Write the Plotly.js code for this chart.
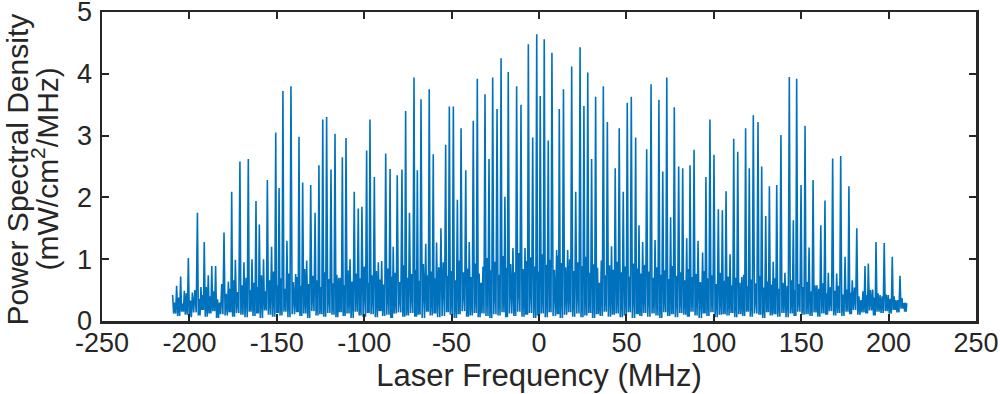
<!DOCTYPE html>
<html>
<head>
<meta charset="utf-8">
<script src="https://cdn.plot.ly/plotly-3.0.1.min.js"></script>
<style>
  html, body { margin: 0; padding: 0; background: #fff; }
  #chart { width: 1000px; height: 394px; }
</style>
</head>
<body>
<div id="chart"></div>
<script>
// comb line positions (MHz) and peak power spectral density (mW/cm^2/MHz)
const lineFreq = [
  -209.6, -207.3, -205.0, -202.9, -200.6, -198.3, -195.4, -193.4, -191.5, -189.2,
  -187.2, -185.0, -182.8, -180.2, -177.7, -175.8, -173.7, -171.1, -168.8, -166.3,
  -164.2, -161.9, -160.0, -157.6, -155.4, -153.0, -150.6, -148.7, -146.5, -144.2,
  -141.9, -139.2, -137.3, -135.2, -132.9, -130.6, -128.1, -125.9, -123.7, -121.5,
  -119.0, -116.7, -114.6, -112.5, -110.4, -108.1, -105.7, -103.4, -101.3, -98.6,
  -96.7, -94.2, -91.9, -90.0, -87.7, -85.2, -83.4, -81.1, -78.4, -76.3,
  -74.1, -71.5, -69.6, -67.5, -64.8, -62.8, -60.5, -58.6, -56.1, -53.4,
  -51.3, -49.0, -46.7, -44.6, -41.9, -39.9, -37.6, -35.3, -33.2, -30.9,
  -28.6, -26.5, -24.0, -21.7, -19.5, -17.6, -14.9, -12.8, -10.3, -8.0,
  -6.1, -3.6, -1.3, 0.7, 3.0, 5.3, 7.4, 10.1, 11.6, 14.0,
  16.4, 18.7, 21.0, 23.5, 25.7, 27.9, 30.1, 32.4, 34.5, 36.8,
  39.1, 41.5, 43.6, 45.9, 48.2, 50.5, 52.8, 55.3, 57.2, 59.3,
  61.6, 64.1, 66.4, 68.6, 70.8, 73.1, 75.3, 77.4, 79.9, 82.2,
  84.5, 86.4, 88.7, 91.0, 93.6, 95.5, 97.8, 100.1, 102.6, 104.9,
  107.0, 109.3, 111.4, 113.7, 116.0, 118.2, 120.3, 122.6, 125.3, 127.4,
  129.7, 131.8, 134.0, 136.0, 138.4, 140.7, 143.2, 145.5, 147.4, 149.9,
  152.2, 154.5, 156.8, 159.0, 161.2, 163.6, 165.5, 168.0, 170.3, 172.6,
  175.1, 177.3, 179.2, 181.8, 184.2, 186.5, 188.4, 190.9, 192.8, 195.1,
  197.5, 199.8, 202.1, 204.2, 206.5, 208.8, 210.4
];
const linePsd = [
  0.42, 0.57, 0.72, 0.49, 1.02, 0.46, 1.75, 0.55, 1.28, 0.74,
  0.89, 0.89, 0.30, 1.43, 0.64, 2.09, 0.99, 2.58, 0.95, 2.62,
  1.00, 1.94, 1.56, 1.00, 2.28, 1.20, 3.05, 2.15, 3.72, 1.30,
  3.80, 0.76, 2.98, 2.24, 0.98, 2.20, 1.75, 2.52, 3.26, 3.30,
  2.45, 3.03, 0.70, 2.65, 2.96, 1.00, 2.09, 1.82, 1.85, 2.76,
  3.26, 2.33, 0.95, 0.97, 2.71, 2.46, 1.20, 2.36, 2.45, 3.40,
  1.75, 3.94, 2.44, 3.59, 1.25, 3.75, 2.70, 1.27, 1.50, 2.85,
  3.47, 3.47, 1.96, 3.12, 2.44, 1.28, 3.24, 3.92, 0.62, 3.67,
  2.62, 3.94, 3.43, 4.25, 2.01, 4.03, 1.18, 3.80, 3.50, 1.18,
  4.48, 2.97, 4.64, 3.64, 4.56, 2.92, 4.34, 1.15, 3.43, 3.75,
  1.15, 4.12, 2.09, 4.43, 3.48, 4.02, 2.62, 3.63, 0.62, 3.80,
  3.22, 1.21, 2.47, 3.12, 2.09, 3.53, 3.63, 2.97, 1.55, 1.28,
  2.78, 3.83, 1.31, 3.58, 2.42, 3.94, 1.68, 3.46, 2.50, 2.47,
  1.34, 2.52, 2.77, 1.30, 1.11, 2.33, 3.26, 2.69, 1.81, 1.79,
  2.10, 1.08, 2.95, 2.74, 0.71, 3.12, 2.47, 3.33, 3.22, 2.50,
  1.70, 2.18, 0.96, 2.20, 3.01, 0.78, 3.95, 1.63, 3.92, 2.20,
  3.16, 1.19, 2.28, 0.58, 1.55, 1.95, 0.78, 2.63, 0.77, 2.67,
  1.04, 2.18, 0.66, 1.50, 0.34, 0.89, 0.93, 0.51, 1.28, 0.42,
  1.26, 0.42, 1.04, 0.34, 0.73, 0.29, 0.29
];
// small side peak in the middle of each gap between comb lines
const gapPeakPsd = [
  0.30, 0.38, 0.28, 0.45, 0.33, 0.50, 0.36, 0.42, 0.55, 0.40, 0.48, 0.35, 0.60, 0.44, 0.52, 0.66, 0.47, 0.58, 0.70, 0.50,
  0.62, 0.55, 0.74, 0.48, 0.66, 0.80, 0.58, 0.69, 0.52, 0.77, 0.63, 0.71, 0.57, 0.84, 0.60, 0.73, 0.66, 0.55, 0.79, 0.68,
  0.61, 0.75, 0.70, 0.58, 0.82, 0.64, 0.77, 0.69, 0.88, 0.62, 0.74, 0.81, 0.67, 0.59, 0.85, 0.72, 0.78, 0.63, 0.90, 0.70,
  0.76, 0.83, 0.65, 0.92, 0.74, 0.80, 0.69, 0.87, 0.95, 0.73, 0.81, 0.66, 0.98, 0.79, 0.85, 0.71, 0.93, 0.77, 0.88, 1.02,
  0.82, 0.96, 0.75, 1.05, 0.86, 0.92, 0.79, 1.10, 0.84, 0.97, 1.03, 0.88, 0.80, 1.08, 0.91, 0.99, 0.83, 1.06, 0.94, 0.87,
  1.00, 0.81, 0.95, 0.89, 1.04, 0.78, 0.92, 0.86, 0.98, 0.74, 0.90, 0.83, 0.96, 0.79, 0.88, 0.72, 0.93, 0.85, 0.77, 0.91,
  0.80, 0.70, 0.87, 0.75, 0.82, 0.68, 0.89, 0.73, 0.79, 0.66, 0.84, 0.71, 0.76, 0.63, 0.81, 0.69, 0.74, 0.60, 0.78, 0.65,
  0.72, 0.58, 0.70, 0.62, 0.75, 0.56, 0.67, 0.61, 0.73, 0.54, 0.64, 0.59, 0.69, 0.52, 0.62, 0.57, 0.66, 0.50, 0.60, 0.55,
  0.63, 0.48, 0.58, 0.52, 0.61, 0.45, 0.55, 0.49, 0.57, 0.43, 0.51, 0.46, 0.54, 0.40, 0.48, 0.42, 0.50, 0.38, 0.45, 0.40,
  0.43, 0.36, 0.40, 0.34, 0.37, 0.30
];
// noise floor reached on either side of the side peak
const gapFloorPsd = [
  0.12, 0.08, 0.15, 0.10, 0.06, 0.14, 0.09, 0.18, 0.07, 0.12, 0.16, 0.05, 0.11, 0.09, 0.14, 0.07, 0.13, 0.10, 0.06, 0.15,
  0.08, 0.12, 0.05, 0.17, 0.10, 0.07, 0.13, 0.09, 0.15, 0.06, 0.11, 0.14, 0.08, 0.12, 0.05, 0.16, 0.09, 0.11, 0.07, 0.13,
  0.10, 0.06, 0.14, 0.08, 0.12, 0.05, 0.15, 0.09, 0.07, 0.13, 0.11, 0.06, 0.16, 0.08, 0.10, 0.05, 0.12, 0.14, 0.07, 0.09,
  0.13, 0.07, 0.10, 0.05, 0.15, 0.09, 0.12, 0.06, 0.08, 0.14, 0.10, 0.05, 0.11, 0.16, 0.07, 0.09, 0.13, 0.06, 0.12, 0.08,
  0.05, 0.11, 0.09, 0.14, 0.06, 0.12, 0.08, 0.15, 0.07, 0.10, 0.13, 0.05, 0.09, 0.12, 0.06, 0.14, 0.08, 0.11, 0.05, 0.10,
  0.14, 0.07, 0.12, 0.06, 0.09, 0.13, 0.05, 0.11, 0.08, 0.15, 0.07, 0.10, 0.12, 0.06, 0.09, 0.14, 0.05, 0.11, 0.08, 0.13,
  0.07, 0.12, 0.09, 0.05, 0.14, 0.08, 0.11, 0.06, 0.13, 0.10, 0.07, 0.15, 0.09, 0.05, 0.12, 0.08, 0.14, 0.06, 0.10, 0.11,
  0.09, 0.13, 0.06, 0.11, 0.08, 0.15, 0.07, 0.12, 0.10, 0.05, 0.14, 0.09, 0.11, 0.07, 0.13, 0.06, 0.12, 0.08, 0.15, 0.10,
  0.11, 0.08, 0.14, 0.07, 0.12, 0.10, 0.16, 0.09, 0.13, 0.08, 0.15, 0.11, 0.18, 0.10, 0.14, 0.12, 0.17, 0.09, 0.15, 0.13,
  0.16, 0.12, 0.18, 0.14, 0.20, 0.15
];
const xTicks = [-250, -200, -150, -100, -50, 0, 50, 100, 150, 200, 250];
const yTicks = [0, 1, 2, 3, 4, 5];
const yTitleLines = ['Power Spectral Density', '(mW/cm<sup>2</sup>/MHz)'];

// walk the spectrum: comb line, floor, side peak, floor, next comb line ...
const xs = [];
const ys = [];
for (let k = 0; k < lineFreq.length; k++) {
    xs.push(lineFreq[k]);
    ys.push(linePsd[k]);
    if (k < lineFreq.length - 1) {
        const gap = lineFreq[k + 1] - lineFreq[k];
        xs.push(lineFreq[k] + gap * 0.25, lineFreq[k] + gap * 0.5, lineFreq[k] + gap * 0.75);
        ys.push(gapFloorPsd[k], gapPeakPsd[k], gapFloorPsd[k]);
    }
}

const ink = '#262626';
const font = 'Liberation Sans, Arial, Helvetica, sans-serif';

const axisBase = {
    showline: true,
    mirror: 'ticks',
    linecolor: ink,
    linewidth: 2.5,
    ticks: 'inside',
    ticklen: 7,
    tickwidth: 2,
    tickcolor: ink,
    showgrid: false,
    zeroline: false,
    ticklabeloverflow: 'allow',
    tickfont: { family: font, size: 27, color: ink },
};

// two-line y title as separate annotations so the line gap matches
const yTitleNotes = yTitleLines.map((txt, i) => ({
    text: txt,
    xref: 'paper', yref: 'paper',
    x: 0, y: 0.5,
    xanchor: 'center', yanchor: 'middle',
    xshift: i === 0 ? -85 : -57,
    yshift: -3,
    textangle: -90,
    showarrow: false,
    font: { family: font, size: 30, color: ink },
}));

Plotly.newPlot('chart', [{
    x: xs,
    y: ys,
    type: 'scatter',
    mode: 'lines',
    line: { color: '#0072bd', width: 1.6 },
    hoverinfo: 'skip',
}], {
    width: 1000,
    height: 394,
    margin: { l: 102, r: 24, t: 12, b: 73 },
    paper_bgcolor: '#fff',
    plot_bgcolor: '#fff',
    showlegend: false,
    xaxis: Object.assign({}, axisBase, {
        range: [-250, 250],
        tickvals: xTicks,
        ticktext: xTicks.map(String),
        ticklabelstandoff: -4,
        title: { text: 'Laser Frequency (MHz)', font: { family: font, size: 31, color: ink }, standoff: 4 },
    }),
    yaxis: Object.assign({}, axisBase, {
        range: [0, 5],
        tickvals: yTicks,
        ticktext: yTicks.map(String),
        ticklabelstandoff: 2,
    }),
    annotations: yTitleNotes,
}, { displayModeBar: false, staticPlot: true });
</script>
</body>
</html>
